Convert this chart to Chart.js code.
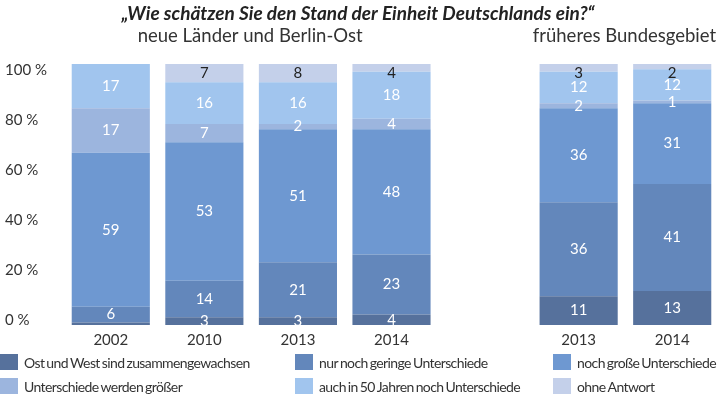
<!DOCTYPE html>
<html lang="de">
<head>
<meta charset="utf-8">
<script src="https://cdn.jsdelivr.net/npm/chart.js@4/dist/chart.umd.min.js"></script>
<style>
  html, body { margin: 0; padding: 0; background: #fff; }
  #wrap { width: 720px; height: 395px; }
</style>
</head>
<body>
<div id="wrap"><canvas id="einheitChart" width="720" height="395"></canvas></div>
<script>
// Data
const years = ['2002', '2010', '2013', '2014', '', '2013', '2014'];
const seriesNames = [
  'Ost und West sind zusammengewachsen',
  'nur noch geringe Unterschiede',
  'noch große Unterschiede',
  'Unterschiede werden größer',
  'auch in 50 Jahren noch Unterschiede',
  'ohne Antwort'
];
const zusammen = [1, 3, 3, 4, null, 11, 13];
const geringe = [6, 14, 21, 23, null, 36, 41];
const grosse = [59, 53, 51, 48, null, 36, 31];
const groesser = [17, 7, 2, 4, null, 2, 1];
const fuenfzig = [17, 16, 16, 18, null, 12, 12];
const ohneAntwort = [0, 7, 8, 4, null, 3, 2];
const yTicks = [0, 20, 40, 60, 80, 100];

const titleText = '„Wie schätzen Sie den Stand der Einheit Deutschlands ein?“';
const groupTitles = [
  { text: 'neue Länder und Berlin-Ost', from: 0, to: 3 },
  { text: 'früheres Bundesgebiet', from: 5, to: 6 }
];

const colors = ['#56719c', '#6387bb', '#6e98d1', '#9cb5de', '#a1c5ee', '#c4d0ea'];
const labelColors = ['#fff', '#fff', '#fff', '#fff', '#fff', '#222'];

Chart.defaults.font.family = 'Lato';

// numbers inside the bars, group headings, title and legend
const annotate = {
  id: 'annotate',
  afterDatasetsDraw(chart) {
    const ctx = chart.ctx;
    const area = chart.chartArea;
    ctx.save();
    ctx.textAlign = 'center';
    ctx.textBaseline = 'middle';
    ctx.font = '15px Lato';
    chart.data.datasets.forEach((ds, d) => {
      chart.getDatasetMeta(d).data.forEach((bar, i) => {
        const v = ds.data[i];
        if (!v || (d === 0 && v < 2)) return;
        let y = (bar.y + bar.base) / 2;
        y = Math.max(y, area.top + 9);
        ctx.fillStyle = labelColors[d];
        ctx.fillText(v, bar.x, y);
      });
    });

    ctx.fillStyle = '#222';
    ctx.font = 'italic bold 19px Lato';
    ctx.fillText(titleText, 358, 14);

    const xs = chart.scales.x;
    ctx.fillStyle = '#333';
    ctx.font = '18.5px Lato';
    groupTitles.forEach(g => {
      const cx = (xs.getPixelForValue(g.from) + xs.getPixelForValue(g.to)) / 2;
      ctx.fillText(g.text, cx - 1, 36);
    });

    // legend in three columns
    const colX = [0, 295, 553];
    const rowY = [362, 386];
    ctx.textAlign = 'left';
    ctx.font = '14px Lato';
    ctx.letterSpacing = '-0.6px';
    ctx.wordSpacing = '-1px';
    chart.data.datasets.forEach((ds, d) => {
      const x = colX[d % 3];
      const y = rowY[Math.floor(d / 3)];
      ctx.fillStyle = ds.backgroundColor;
      ctx.fillRect(x, y - 8, 18, 16);
      ctx.fillStyle = '#333';
      ctx.fillText(ds.label, x + 24, y + 1);
    });
    ctx.restore();
  }
};

const seriesData = [zusammen, geringe, grosse, groesser, fuenfzig, ohneAntwort];

new Chart(document.getElementById('einheitChart'), {
  type: 'bar',
  data: {
    labels: years,
    datasets: seriesData.map((arr, i) => ({
      label: seriesNames[i],
      data: arr,
      backgroundColor: colors[i],
      borderWidth: 0,
      barPercentage: 1,
      categoryPercentage: 0.835
    }))
  },
  options: {
    responsive: false,
    animation: false,
    layout: { padding: { top: 64, left: 5, right: 1, bottom: 40 } },
    plugins: {
      legend: { display: false },
      tooltip: { enabled: false },
      title: { display: false }
    },
    scales: {
      x: {
        stacked: true,
        grid: { display: false, drawTicks: false },
        border: { display: false },
        ticks: { color: '#333', font: { size: 15 }, padding: 6 }
      },
      y: { type: 'linear', stacked: true, min: 0, max: 100, display: false },
      yLab: {
        type: 'linear',
        position: 'left',
        min: -1.9,
        max: 102.6,
        grid: { display: false, drawTicks: false },
        border: { display: false },
        afterBuildTicks(s) { s.ticks = yTicks.map(v => ({ value: v })); },
        afterFit(s) { s.width = 59; },
        ticks: {
          crossAlign: 'far',
          padding: 0,
          color: '#333',
          font: { size: 15 },
          callback: v => v + ' %'
        }
      }
    }
  },
  plugins: [annotate]
});
</script>
</body>
</html>
